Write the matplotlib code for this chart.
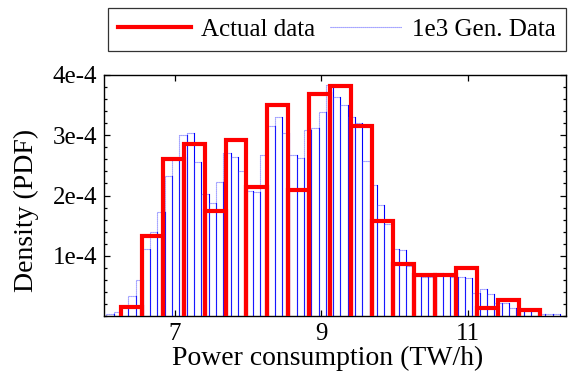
import matplotlib
matplotlib.use("Agg")
import matplotlib.pyplot as plt
import numpy as np
from matplotlib.lines import Line2D
from matplotlib.ticker import FixedLocator, MultipleLocator, NullLocator

plt.rcParams["font.family"] = ["Liberation Serif", "DejaVu Serif"]

# actual data histogram: 20 bins
actual_start = 6.26
actual_width = 0.286
actual_density = [0.15, 1.33, 2.61, 2.86, 1.75, 2.92, 2.14, 3.51, 2.09, 3.69,
                  3.81, 3.15, 1.58, 0.86, 0.68, 0.68, 0.80, 0.14, 0.27, 0.10]

# 1e3 generated samples: 62 narrower bins
gen_start = 6.06
gen_width = 0.1
gen_density = [0.03, 0.07, 0.15, 0.33, 0.60, 1.11, 1.40, 1.72, 2.32, 2.61,
               3.00, 3.03, 2.56, 2.02, 1.87, 2.23, 2.70, 2.64, 2.41, 2.08,
               2.05, 2.67, 3.15, 3.30, 3.03, 2.67, 2.62, 3.09, 3.12, 3.39,
               3.83, 3.63, 3.51, 3.30, 3.21, 2.58, 2.17, 1.84, 1.53, 1.11,
               1.10, 0.83, 0.66, 0.65, 0.64, 0.72, 0.68, 0.65, 0.65, 0.63,
               0.39, 0.44, 0.36, 0.21, 0.21, 0.14, 0.12, 0.09, 0.08, 0.03,
               0.03, 0.03]

x_ticks = [7, 9, 11]
y_ticks = [1e-4, 2e-4, 3e-4, 4e-4]
y_tick_labels = ["1e-4", "2e-4", "3e-4", "4e-4"]

actual = np.array(actual_density) * 1e-4
gen = np.array(gen_density) * 1e-4
actual_edges = actual_start + actual_width * np.arange(len(actual) + 1)
gen_edges = gen_start + gen_width * np.arange(len(gen) + 1)

fig = plt.figure(figsize=(5.76, 3.85), dpi=100)
ax = fig.add_axes([0.1806, 0.1792, 0.802, 0.626])

# generated data: dotted outline, solid right edge
blue_dot = dict(color="#3b3bff", lw=0.8, ls=(0, (1, 0.8)), alpha=0.75)
for left, right, h in zip(gen_edges[:-1], gen_edges[1:], gen):
    ax.plot([left, left, right], [0, h, h], **blue_dot, zorder=2)
    ax.plot([right, right], [h, 0], color="#0000ff", lw=0.8, zorder=2)

# actual data: thick red bar outlines without a bottom edge
for left, right, h in zip(actual_edges[:-1], actual_edges[1:], actual):
    ax.plot([left, left, right, right], [0, h, h, 0], color="#ff0000",
            lw=3.0, solid_joinstyle="miter", zorder=3)

ax.set_xlim(6.03, 12.34)
ax.set_ylim(0, 4e-4)
ax.xaxis.set_major_locator(FixedLocator(x_ticks))
ax.xaxis.set_minor_locator(NullLocator())
ax.yaxis.set_major_locator(FixedLocator(y_ticks))
ax.set_yticklabels(y_tick_labels)
ax.yaxis.set_minor_locator(MultipleLocator(2e-5))
ax.tick_params(which="both", direction="in", top=True, right=True,
               labelsize=18, width=0.9, pad=5)
ax.tick_params(which="major", length=4)
ax.tick_params(which="minor", length=2.5)
for sp in ax.spines.values():
    sp.set_linewidth(1.0)

ax.set_xlabel("Power consumption (TW/h)", fontsize=20, va="center")
ax.xaxis.set_label_coords(0.484, -0.178)
ax.set_ylabel("Density (PDF)", fontsize=20, va="center")
ax.yaxis.set_label_coords(-0.167, 0.44)

handles = [Line2D([], [], color="#ff0000", lw=3.0),
           Line2D([], [], **blue_dot)]
leg = ax.legend(handles, ["Actual data", "1e3 Gen. Data"], ncol=2,
                loc="lower left", bbox_to_anchor=(0.0087, 1.0996),
                fontsize=18, frameon=True, fancybox=False,
                handlelength=2.9, handletextpad=0.4, columnspacing=0.6,
                borderpad=0.4, borderaxespad=0.0)
leg.get_frame().set_edgecolor("black")
leg.get_frame().set_linewidth(0.9)

fig.savefig("out.png", dpi=100)
